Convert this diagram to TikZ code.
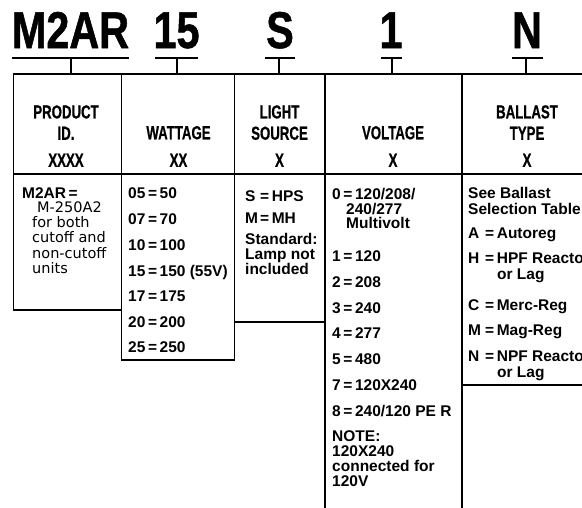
\documentclass[tikz,border=0pt]{standalone}
\usepackage{fontspec}
\setmainfont{Liberation Sans}
\newfontfamily\bigfont[FakeStretch=0.8,FakeBold=1]{Liberation Sans}
\newfontfamily\hdfont[FakeStretch=0.7,FakeBold=0.6]{Liberation Sans}
\newfontfamily\regfont{DejaVu Sans}
\newcommand{\keybox}[2][15pt]{\makebox[#1][l]{#2}}
\newcommand{\eqq}{\,=\,}
\begin{document}
\begin{tikzpicture}[x=1pt,y=-1pt,
 cell/.style={draw, line width=1.6pt, inner sep=0pt, outer sep=0pt},
 big/.style={inner sep=0pt, anchor=base, font=\bigfont\bfseries\fontsize{51.7}{52}\selectfont},
 ul/.style={line width=2pt},
 tick/.style={line width=1.5pt},
 hd/.style={inner sep=0pt, anchor=center, text height=13.5pt, text depth=0pt, font=\hdfont\bfseries\fontsize{18.9}{20}\selectfont},
 tx/.style={inner sep=0pt, anchor=west, text height=11.1pt, text depth=0pt, font=\bfseries\fontsize{15.5}{17}\selectfont},
 rg/.style={inner sep=0pt, anchor=west, text height=10.6pt, text depth=0pt, font=\regfont\fontsize{14.5}{16}\selectfont},
]
\clip (0,0) rectangle (582,507);
% top labels
\node[big] (m2ar) at (70.5,48) {M2AR};
\node[big] (w15) at (176.5,48) {15};
\node[big] (ls) at (280,48) {S};
\node[big] (v1) at (391,48) {1};
\node[big] (bn) at (527,48) {N};
\draw[ul] (12,57.5) -- (129,57.5);
\draw[ul] (155,57.5) -- (198,57.5);
\draw[ul] (265,57.5) -- (295,57.5);
\draw[ul] (381,57.5) -- (402,57.5);
\draw[ul] (512,57.5) -- (543,57.5);
\coordinate (t1) at (71,57.5);
\coordinate (t2) at (177,57.5);
\coordinate (t3) at (279,57.5);
\coordinate (t4) at (392,57.5);
\coordinate (t5) at (526,57.5);
% header cells
\node[cell, minimum width=108pt, minimum height=100pt] (h1) at (67.5,124) {};
\node[cell, minimum width=113pt, minimum height=100pt] (h2) at (178,124) {};
\node[cell, minimum width=90pt, minimum height=100pt] (h3) at (279.5,124) {};
\node[cell, minimum width=137pt, minimum height=100pt] (h4) at (393.5,124) {};
\node[cell, minimum width=130pt, minimum height=100pt] (h5) at (527,124) {};
% body cells
\node[cell, minimum width=108pt, minimum height=136pt] (b1) at (67.5,242) {};
\node[cell, minimum width=113pt, minimum height=186pt] (b2) at (178,267) {};
\node[cell, minimum width=90pt, minimum height=148pt] (b3) at (279.5,248) {};
\node[cell, minimum width=137pt, minimum height=346pt] (b4) at (393.5,347) {};
\node[cell, minimum width=130pt, minimum height=211pt] (b5) at (527,279.5) {};
% ticks
\draw[tick] (t1) -- (t1 |- h1.north);
\draw[tick] (t2) -- (t2 |- h2.north);
\draw[tick] (t3) -- (t3 |- h3.north);
\draw[tick] (t4) -- (t4 |- h4.north);
\draw[tick] (t5) -- (t5 |- h5.north);
% header texts
\node[hd] (h1a) at (66,111.7) {PRODUCT};
\node[hd] (h1b) at (66,133) {ID.};
\node[hd] (h1c) at (66,160) {XXXX};
\node[hd] (h2a) at (178.5,132.5) {WATTAGE};
\node[hd] (h2b) at (178.5,160) {XX};
\node[hd] (h3a) at (279.5,111.7) {LIGHT};
\node[hd] (h3b) at (279.5,133) {SOURCE};
\node[hd] (h3c) at (279.5,160) {X};
\node[hd] (h4a) at (393,132.5) {VOLTAGE};
\node[hd] (h4b) at (393,160) {X};
\node[hd] (h5a) at (527,111.7) {BALLAST};
\node[hd] (h5b) at (527,133) {TYPE};
\node[hd] (h5c) at (527,160) {X};
% product
\node[tx] (p1) at (22,192.5) {M2AR\,=};
\node[rg] (p2) at (37,207) {M-250A2};
\node[rg] (p3) at (32,222) {for both};
\node[rg] (p4) at (32,237.5) {cutoff and};
\node[rg] (p5) at (32,253) {non-cutoff};
\node[rg] (p6) at (32,268) {units};
% wattage
\node[tx] (w1) at (128,193) {05\eqq 50};
\node[tx] (w2) at (128,219) {07\eqq 70};
\node[tx] (w3) at (128,245) {10\eqq 100};
\node[tx] (w4) at (128,271) {15\eqq 150 (55V)};
\node[tx] (w5) at (128,296) {17\eqq 175};
\node[tx] (w6) at (128,322) {20\eqq 200};
\node[tx] (w7) at (128,347) {25\eqq 250};
% light source
\node[tx] (s1) at (245,196) {\keybox{S}=\,HPS};
\node[tx] (s2) at (245,218) {\keybox{M}=\,MH};
\node[tx] (s3) at (245,239) {Standard:};
\node[tx] (s4) at (245,254) {Lamp not};
\node[tx] (s5) at (245,268.5) {included};
% voltage
\node[tx] (v01) at (332,194) {0\eqq 120/208/};
\node[tx] (v02) at (346,208.5) {240/277};
\node[tx] (v03) at (346,223) {Multivolt};
\node[tx] (v04) at (332,256) {1\eqq 120};
\node[tx] (v05) at (332,282) {2\eqq 208};
\node[tx] (v06) at (332,308) {3\eqq 240};
\node[tx] (v07) at (332,333) {4\eqq 277};
\node[tx] (v08) at (332,359) {5\eqq 480};
\node[tx] (v09) at (332,385) {7\eqq 120X240};
\node[tx] (v10) at (332,411) {8\eqq 240/120 PE R};
\node[tx] (v11) at (332,436) {NOTE:};
\node[tx] (v12) at (332,451) {120X240};
\node[tx] (v13) at (332,466) {connected for};
\node[tx] (v14) at (332,481) {120V};
% ballast
\node[tx] (k1) at (468,193) {See Ballast};
\node[tx] (k2) at (468,209) {Selection Table};
\node[tx] (k3) at (468,233) {\keybox[17pt]{A}=\,Autoreg};
\node[tx] (k4) at (468,258) {\keybox[17pt]{H}=\,HPF Reactor};
\node[tx] (k5) at (497,274) {or Lag};
\node[tx] (k6) at (468,305) {\keybox[17pt]{C}=\,Merc-Reg};
\node[tx] (k7) at (468,330) {\keybox[17pt]{M}=\,Mag-Reg};
\node[tx] (k8) at (468,356) {\keybox[17pt]{N}=\,NPF Reactor};
\node[tx] (k9) at (497,372) {or Lag};
\end{tikzpicture}
\end{document}
